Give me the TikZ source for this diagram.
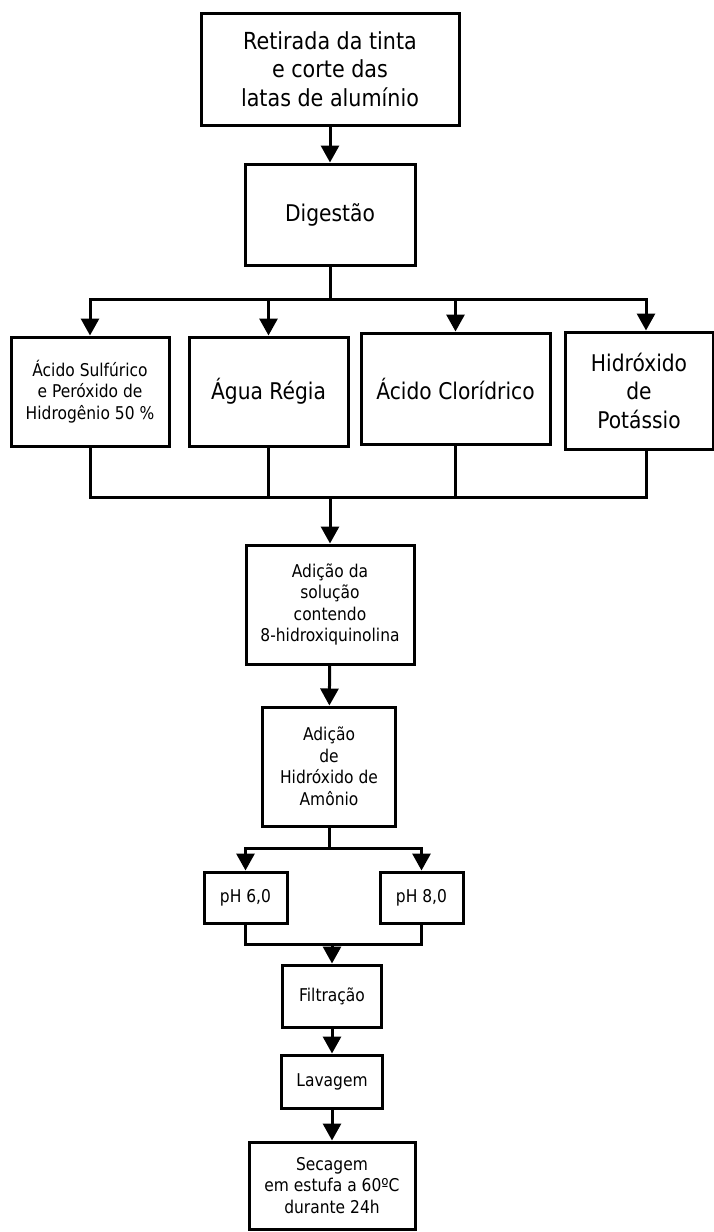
\documentclass[tikz,border=0pt]{standalone}
\usepackage{fontspec}
\setmainfont{DejaVu Sans}[FakeStretch=0.88]
\usetikzlibrary{arrows.meta}

\newcommand{\letratopo}{\fontsize{23.5}{28.5}\selectfont}
\newcommand{\letragrande}{\fontsize{23}{28.5}\selectfont}
\newcommand{\letrapequena}{\fontsize{17.6}{21.5}\selectfont}

\begin{document}
\begin{tikzpicture}[x=1pt, y=-1pt,
    caixa/.style={draw, line width=3pt, inner sep=0pt, align=center, fill=white},
    seta/.style={line width=3pt, -{Triangle[width=18pt,length=17pt]}},
    linha/.style={line width=3pt}]
    \useasboundingbox (0,0) rectangle (714,1232);

    % etapas iniciais
    \node[caixa, minimum width=258pt, minimum height=112pt, font=\letratopo] (retirada) at (330,69) {Retirada da tinta\\ e corte das\\latas de alumínio};
    \node[caixa, minimum width=170pt, minimum height=101pt, font=\letragrande] (digestao) at (330,214.5) {Digestão};

    % reagentes da digestao
    \node[caixa, minimum width=158pt, minimum height=109pt, font=\letrapequena] (sulfurico) at (90,391.5) {Ácido Sulfúrico\\e Peróxido de\\Hidrogênio 50 \%};
    \node[caixa, minimum width=159pt, minimum height=109pt, font=\letragrande] (agua) at (268.5,391.5) {Água Régia};
    \node[caixa, minimum width=189pt, minimum height=111pt, font=\letragrande] (cloridrico) at (455.5,388.5) {Ácido Clorídrico};
    \node[caixa, minimum width=148pt, minimum height=117pt, font=\letragrande] (hidroxido) at (639,390.5) {Hidróxido\\de\\Potássio};

    % precipitacao
    \node[caixa, minimum width=168pt, minimum height=119pt, font=\letrapequena] (adicao) at (330,604.5) {Adição da\\solução\\contendo\\8-hidroxiquinolina};
    \node[caixa, minimum width=133pt, minimum height=119pt, font=\letrapequena] (amonio) at (329,766.5) {Adição\\de\\Hidróxido de\\Amônio};
    \node[caixa, minimum width=83pt, minimum height=51pt, font=\letrapequena] (ph6) at (245.5,897.5) {pH 6,0};
    \node[caixa, minimum width=83pt, minimum height=51pt, font=\letrapequena] (ph8) at (421.5,897.5) {pH 8,0};

    % etapas finais
    \node[caixa, minimum width=99pt, minimum height=62pt, font=\letrapequena] (filtracao) at (332,996) {Filtração};
    \node[caixa, minimum width=101pt, minimum height=53pt, font=\letrapequena] (lavagem) at (332,1081.5) {Lavagem};
    \node[caixa, minimum width=166pt, minimum height=87pt, font=\letrapequena] (secagem) at (332,1185.5) {Secagem\\em estufa a 60ºC\\durante 24h};

    \coordinate (divisao) at (330,299);
    \coordinate (juncao) at (330,497);
    \coordinate (ramo) at (329,848);
    \coordinate (uniao) at (332,944);

    \draw[seta] (retirada) -- (digestao);
    \draw[linha] (digestao.south) -- (divisao);
    \draw[seta] (divisao) -| (sulfurico.north);
    \draw[seta] (divisao) -| (agua.north);
    \draw[seta] (divisao) -| (cloridrico.north);
    \draw[seta] (divisao) -| ([xshift=7pt]hidroxido.north);

    \draw[linha] (sulfurico.south) |- (juncao);
    \draw[linha] (agua.south) |- (juncao);
    \draw[linha] (cloridrico.south) |- (juncao);
    \draw[linha] ([xshift=7pt]hidroxido.south) |- (juncao);
    \draw[seta] (juncao) -- (adicao.north);

    \draw[seta] (adicao) -- (amonio);
    \draw[linha] (amonio.south) -- (ramo);
    \draw[seta] (ramo) -| (ph6.north);
    \draw[seta] (ramo) -| (ph8.north);

    \draw[linha] (ph6.south) |- (uniao);
    \draw[linha] (ph8.south) |- (uniao);
    \draw[seta] (uniao) -- (filtracao.north);
    \draw[seta] (filtracao) -- (lavagem);
    \draw[seta] (lavagem) -- (secagem);
\end{tikzpicture}
\end{document}
